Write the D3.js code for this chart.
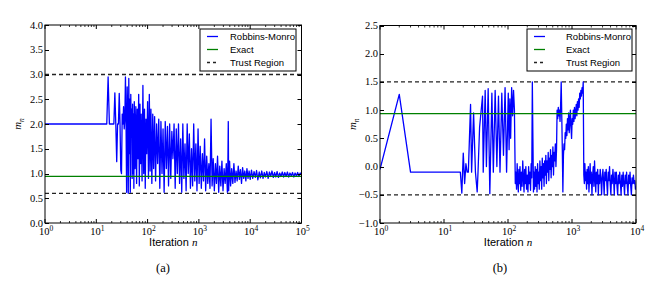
<!DOCTYPE html>
<html>
<head>
<meta charset="utf-8">
<script src="https://cdn.jsdelivr.net/npm/d3@7.9.0/dist/d3.min.js"></script>
<style>
  body { margin: 0; background: #fff; }
  svg { display: block; }
  .tick-label { font-family: "Liberation Serif", "DejaVu Serif", serif; font-size: 10.5px; fill: #000; }
  .legend-text { font-family: "Liberation Sans", Arial, sans-serif; font-size: 9.5px; fill: #000; }
  .axis-title { font-family: "Liberation Sans", Arial, sans-serif; font-size: 11px; fill: #000; }
  .caption { font-family: "Liberation Serif", serif; font-size: 12.5px; fill: #000; }
</style>
</head>
<body>
<svg id="chart" width="651" height="285"></svg>
<script>
// panel (a): iteration numbers and Robbins-Monro estimates
const iterA = [1, 15, 16, 17, 18, 22, 23, 24, 25, 26, 27, 28, 29, 30, 31, 32, 33, 34, 35, 36,
  37, 38, 39, 40, 41, 42, 43, 44, 45, 46, 47, 48, 49, 50, 51, 52, 53, 54, 55, 57,
  59, 61, 63, 65, 67, 69, 71, 73, 75, 78, 81, 84, 87, 90, 93, 96, 100, 104, 108, 112,
  116, 121, 126, 131, 137, 143, 150, 157, 165, 173, 182, 191, 200, 210, 221, 232, 244, 256, 269, 283,
  297, 312, 328, 345, 362, 380, 400, 420, 441, 463, 486, 510, 536, 563, 591, 620, 651, 684, 718, 754,
  792, 832, 873, 917, 963, 1010, 1060, 1115, 1170, 1230, 1290, 1355, 1420, 1490, 1565, 1645, 1725, 1810, 1900, 2000,
  2100, 2200, 2310, 2430, 2550, 2680, 2810, 2950, 3100, 3250, 3420, 3590, 3680, 3740, 3800, 3960, 4150, 4360, 4580, 4810,
  5050, 5300, 5570, 5850, 6140, 6450, 6770, 7110, 7470, 7840, 8230, 8640, 9070, 9530, 10000, 10600, 11200, 11900, 12600, 13300,
  14100, 15000, 15800, 16800, 17800, 18800, 19900, 21100, 22400, 23700, 25100, 26600, 28200, 29900, 31600, 33500, 35500, 37600, 39800, 42200,
  44700, 47300, 50100, 53100, 56200, 59600, 63100, 66800, 70800, 75000, 79400, 84100, 89100, 94400, 100000];
const mA = [2.0, 2.0, 2.0, 2.95, 2.0, 2.0, 2.63, 2.0, 1.24, 2.0, 2.0, 2.62, 2.0, 1.07, 1.0, 2.2, 2.0, 2.35, 1.9, 2.1,
  2.95, 2.0, 0.62, 2.75, 2.1, 0.6, 2.92, 1.4, 2.5, 0.62, 2.6, 1.8, 2.3, 0.9, 2.4, 1.0, 2.2, 0.7, 2.45, 1.1,
  2.35, 0.8, 2.3, 1.3, 2.6, 0.75, 2.4, 1.2, 2.2, 0.85, 2.78, 1.0, 2.3, 0.7, 2.1, 1.4, 2.45, 0.9, 2.6, 1.05,
  2.3, 0.8, 2.2, 1.1, 2.15, 0.85, 2.0, 1.2, 2.1, 0.7, 2.05, 1.0, 1.9, 0.62, 2.05, 1.1, 1.95, 0.75, 2.0, 0.9,
  1.85, 1.3, 2.0, 0.7, 1.9, 1.0, 2.0, 0.8, 1.7, 0.62, 2.0, 0.9, 1.6, 0.65, 2.0, 1.0, 1.8, 0.7, 1.5, 0.75,
  2.0, 0.85, 1.6, 0.65, 1.9, 0.8, 1.55, 0.7, 1.4, 0.85, 1.7, 0.65, 1.35, 0.8, 1.2, 0.7, 2.1, 0.75, 1.3, 0.65,
  1.2, 0.8, 1.35, 0.62, 1.15, 0.75, 1.25, 0.65, 1.1, 0.8, 1.2, 0.62, 1.3, 2.05, 0.65, 1.25, 0.75, 1.1, 0.8, 1.2,
  0.82, 1.05, 0.85, 1.15, 0.88, 1.08, 0.8, 1.12, 0.9, 1.05, 0.85, 1.1, 0.9, 1.05, 0.88, 1.07, 0.9, 1.04, 0.92, 1.06,
  0.87, 1.03, 0.91, 1.05, 0.9, 1.02, 0.93, 1.04, 0.9, 1.03, 0.94, 1.05, 0.92, 1.02, 0.93, 1.04, 0.92, 1.01, 0.94, 1.03,
  0.93, 1.02, 0.94, 1.03, 0.93, 1.01, 0.95, 1.02, 0.93, 1.01, 0.95, 1.02, 0.94, 1.01, 0.97];

// panel (b)
const iterB = [1, 2, 3, 18, 19, 20, 21, 22, 23, 24, 26, 27, 29, 31, 33, 34, 36, 40, 41, 44,
  46, 49, 52, 56, 59, 63, 67, 71, 75, 80, 85, 90, 95, 101, 104, 107, 110, 114, 118, 122,
  126, 130, 133, 136, 139, 142, 145, 148, 151, 154, 158, 162, 166, 170, 174, 178, 182, 186, 190, 195,
  200, 205, 210, 215, 220, 225, 230, 235, 240, 245, 250, 255, 260, 266, 272, 278, 284, 290, 296, 302,
  308, 315, 322, 329, 336, 343, 350, 358, 366, 374, 382, 390, 398, 407, 416, 425, 434, 443, 452, 462,
  472, 482, 492, 503, 514, 525, 537, 549, 561, 573, 585, 598, 611, 624, 637, 650, 664, 678, 692, 706,
  720, 735, 750, 766, 782, 798, 815, 832, 850, 868, 886, 905, 924, 944, 964, 985, 1006, 1027, 1049, 1071,
  1094, 1117, 1141, 1165, 1190, 1215, 1241, 1267, 1294, 1321, 1349, 1377, 1406, 1436, 1466, 1497, 1530, 1560, 1590, 1620,
  1650, 1690, 1720, 1760, 1800, 1840, 1880, 1920, 1960, 2000, 2050, 2100, 2150, 2200, 2250, 2300, 2350, 2400, 2460, 2520,
  2580, 2640, 2700, 2760, 2830, 2900, 2970, 3040, 3110, 3180, 3260, 3340, 3420, 3500, 3590, 3680, 3770, 3860, 3950, 4050,
  4150, 4250, 4360, 4470, 4580, 4690, 4810, 4930, 5050, 5170, 5300, 5430, 5570, 5710, 5850, 6000, 6150, 6300, 6460, 6620,
  6790, 6960, 7130, 7310, 7490, 7680, 7870, 8070, 8270, 8470, 8680, 8900, 9120, 9350, 9580, 9800, 10000];
const mB = [-0.05, 1.28, -0.1, -0.1, -0.47, 0.24, -0.3, 0.05, -0.1, -0.1, 1.1, -0.1, 0.95, -0.1, -0.45, -0.1, 0.7, 1.25, -0.1, 1.35,
  0.0, 1.38, -0.48, 1.3, -0.1, 1.35, 0.0, 1.25, -0.1, 1.3, 0.2, 1.4, -0.1, 1.3, 0.3, 1.2, 0.5, 1.4, 0.9, 1.35,
  1.0, -0.3, -0.1, -0.4, 0.05, -0.25, -0.45, -0.05, -0.3, 0.0, -0.42, -0.1, -0.35, 0.1, -0.2, -0.45, -0.05, -0.3, 0.0, -0.4,
  -0.15, -0.45, 0.0, -0.3, -0.1, -0.42, 0.05, -0.2, 1.5, 0.5, -0.45, -0.1, -0.4, 0.0, -0.35, -0.05, -0.45, 0.05, -0.3, -0.1,
  -0.4, 0.1, -0.25, 0.0, -0.4, 0.15, -0.2, 0.05, -0.35, 0.1, -0.15, 0.2, -0.3, 0.1, -0.1, 0.25, -0.25, 0.15, -0.05, 0.3,
  -0.2, 0.2, 0.0, 0.35, -0.15, 0.25, 0.1, 0.4, 0.0, 0.3, 1.0, 0.85, 1.05, 0.9, 1.0, 0.8, 1.1, 1.5, 0.9, 0.3,
  -0.45, 0.2, 0.4, 0.3, 0.6, 0.5, 0.75, 0.55, 0.85, 0.65, 0.95, 0.6, 0.8, 1.0, 0.7, 0.5, 0.85, 0.75, 1.0, 0.8,
  1.05, 0.85, 0.95, 1.1, 0.9, 1.15, 1.0, 1.2, 1.05, 1.3, 1.2, 1.35, 1.25, 1.4, 1.3, 1.5, -0.15, -0.3, 0.05, -0.25,
  -0.1, -0.4, -0.05, -0.3, 0.0, -0.45, -0.2, 0.05, -0.3, -0.1, -0.5, -0.15, 0.0, -0.35, 0.1, -0.2, -0.45, -0.1, -0.3, -0.05,
  -0.5, -0.15, -0.3, -0.05, -0.2, -0.5, -0.2, -0.05, -0.25, -0.5, -0.1, -0.25, -0.05, -0.3, -0.5, -0.1, -0.25, 0.0, -0.3, -0.5,
  -0.15, -0.3, -0.05, -0.25, -0.5, -0.1, -0.3, -0.1, -0.35, -0.5, -0.15, -0.3, -0.1, -0.3, -0.5, -0.15, -0.35, -0.1, -0.3, -0.5,
  -0.15, -0.3, -0.1, -0.35, -0.5, -0.15, -0.3, -0.1, -0.35, -0.5, -0.2, -0.3, -0.15, -0.3, -0.25, -0.4, -0.35];

const exactValue = 0.94;
const trustA = [0.6, 3.0];
const trustB = [-0.5, 1.5];
const yTicksA = [0.0, 0.5, 1.0, 1.5, 2.0, 2.5, 3.0, 3.5, 4.0];
const yTicksB = [-1.0, -0.5, 0.0, 0.5, 1.0, 1.5, 2.0, 2.5];
const xExpA = [0, 1, 2, 3, 4, 5];
const xExpB = [0, 1, 2, 3, 4];
const legendLabels = ['Robbins-Monro', 'Exact', 'Trust Region'];

const svg = d3.select('#chart');

function drawPanel(opts) {
  const { left, right, top, bottom, iters, values, xMax, yDomain, yTicks, xExps, trust, caption, legend } = opts;
  const g = svg.append('g');
  const x = d3.scaleLog().domain([1, xMax]).range([left, right]);
  const y = d3.scaleLinear().domain(yDomain).range([bottom, top]);

  const clipId = 'clip' + caption.replace(/\W/g, '');
  svg.append('clipPath').attr('id', clipId)
    .append('rect').attr('x', left).attr('y', top).attr('width', right - left).attr('height', bottom - top);

  const plot = g.append('g').attr('clip-path', `url(#${clipId})`);

  // trust region
  trust.forEach((t) => {
    plot.append('line')
      .attr('x1', left).attr('x2', right)
      .attr('y1', y(t)).attr('y2', y(t))
      .attr('stroke', '#222').attr('stroke-width', 1.3)
      .attr('stroke-dasharray', '4,3');
  });

  // robbins-monro series
  const pts = iters.map((n, i) => [n, values[i]]);
  const line = d3.line().x((d) => x(d[0])).y((d) => y(d[1]));
  plot.append('path')
    .attr('d', line(pts))
    .attr('fill', 'none')
    .attr('stroke', '#0000ff')
    .attr('stroke-width', 1.3)
    .attr('stroke-linejoin', 'round');

  // exact
  plot.append('line')
    .attr('x1', left).attr('x2', right)
    .attr('y1', y(exactValue)).attr('y2', y(exactValue))
    .attr('stroke', '#008000').attr('stroke-width', 1.3);

  // frame
  g.append('rect')
    .attr('x', left).attr('y', top).attr('width', right - left).attr('height', bottom - top)
    .attr('fill', 'none').attr('stroke', '#000').attr('stroke-width', 1);

  // y ticks (inside, both sides)
  yTicks.forEach((v) => {
    const yy = Math.round(y(v)) + 0.5;
    g.append('line').attr('x1', left).attr('x2', left + 4).attr('y1', yy).attr('y2', yy).attr('stroke', '#000');
    g.append('line').attr('x1', right - 4).attr('x2', right).attr('y1', yy).attr('y2', yy).attr('stroke', '#000');
    g.append('text').attr('class', 'tick-label')
      .attr('x', left - 2).attr('y', y(v) + 3.5)
      .attr('text-anchor', 'end')
      .text(v.toFixed(1).replace('-', '\u2212'));
  });

  // x ticks: major + minor, top and bottom
  xExps.forEach((e, i) => {
    const base = Math.pow(10, e);
    const xx = x(base);
    g.append('line').attr('x1', xx).attr('x2', xx).attr('y1', bottom).attr('y2', bottom - 4).attr('stroke', '#000');
    g.append('line').attr('x1', xx).attr('x2', xx).attr('y1', top).attr('y2', top + 4).attr('stroke', '#000');
    const t = g.append('text').attr('class', 'tick-label')
      .attr('x', xx + 1).attr('y', bottom + 12).attr('text-anchor', 'middle');
    t.append('tspan').text('10');
    t.append('tspan').attr('dy', -4).attr('font-size', '7.5px').text(e);
    if (i < xExps.length - 1) {
      for (let k = 2; k <= 9; k++) {
        const mx = x(base * k);
        g.append('line').attr('x1', mx).attr('x2', mx).attr('y1', bottom).attr('y2', bottom - 2).attr('stroke', '#000').attr('stroke-width', 0.8);
        g.append('line').attr('x1', mx).attr('x2', mx).attr('y1', top).attr('y2', top + 2).attr('stroke', '#000').attr('stroke-width', 0.8);
      }
    }
  });

  // axis titles
  const cx = (left + right) / 2;
  const xt = g.append('text').attr('class', 'axis-title')
    .attr('x', cx).attr('y', bottom + 23).attr('text-anchor', 'middle');
  xt.append('tspan').text('Iteration ');
  xt.append('tspan').attr('font-family', 'Liberation Serif, serif').attr('font-style', 'italic').text('n');

  const cy = (top + bottom) / 2;
  const yt = g.append('text')
    .attr('transform', `translate(${left - 24},${cy}) rotate(-90)`)
    .attr('text-anchor', 'middle')
    .attr('font-family', 'Liberation Serif, serif').attr('font-style', 'italic').attr('font-size', '11px');
  yt.append('tspan').text('m');
  yt.append('tspan').attr('dy', 2.5).attr('font-size', '7.5px').text('n');

  // caption
  g.append('text').attr('class', 'caption')
    .attr('x', opts.captionX).attr('y', 272).attr('text-anchor', 'middle').text(caption);

  // legend
  const lg = g.append('g');
  lg.append('rect')
    .attr('x', legend.x).attr('y', legend.y).attr('width', legend.w).attr('height', 42)
    .attr('fill', '#fff').attr('stroke', '#000').attr('stroke-width', 1);
  const styles = [
    { stroke: '#0000ff', dash: null },
    { stroke: '#008000', dash: null },
    { stroke: '#222', dash: '3,3' }
  ];
  legendLabels.forEach((lab, i) => {
    const ly = legend.y + 7.5 + i * 13;
    lg.append('line')
      .attr('x1', legend.x + 7).attr('x2', legend.x + 18)
      .attr('y1', ly).attr('y2', ly)
      .attr('stroke', styles[i].stroke).attr('stroke-width', 1.3)
      .attr('stroke-dasharray', styles[i].dash);
    lg.append('text').attr('class', 'legend-text')
      .attr('x', legend.x + legend.textOff).attr('y', ly + 3.3).text(lab);
  });
}

drawPanel({
  left: 45, right: 301.5, top: 25, bottom: 223,
  iters: iterA, values: mA, xMax: 1e5, yDomain: [0, 4],
  yTicks: yTicksA, xExps: xExpA, trust: trustA,
  caption: '(a)', captionX: 163,
  legend: { x: 200, y: 29, w: 96, textOff: 30 }
});

drawPanel({
  left: 380, right: 636, top: 25.5, bottom: 223,
  iters: iterB, values: mB, xMax: 1e4, yDomain: [-1, 2.5],
  yTicks: yTicksB, xExps: xExpB, trust: trustB,
  caption: '(b)', captionX: 500,
  legend: { x: 527, y: 29, w: 105, textOff: 39 }
});
</script>
</body>
</html>
